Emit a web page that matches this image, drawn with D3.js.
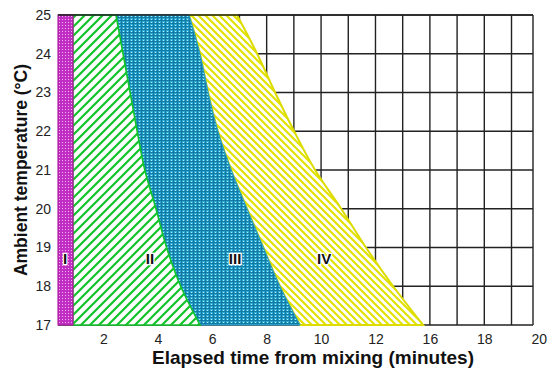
<!DOCTYPE html>
<html>
<head>
<meta charset="utf-8">
<script src="https://cdn.jsdelivr.net/npm/d3@7"></script>
<style>
  body { margin: 0; background: #fff; }
  text { font-family: "Liberation Sans", Arial, sans-serif; }
</style>
</head>
<body>
<div id="chart"></div>
<script>
// Stage boundaries (elapsed minutes), one value per temperature
const temps = [25, 24, 23, 22, 21, 20, 19, 18, 17];
const stageIEnd = 0.88;
const stageIIEnd = [2.46, 2.72, 2.98, 3.24, 3.52, 3.93, 4.32, 4.84, 5.55];
const stageIIIEnd = [5.15, 5.55, 5.85, 6.21, 6.70, 7.28, 7.88, 8.49, 9.23];
const stageIVEnd = [6.91, 7.65, 8.31, 9.01, 9.78, 10.74, 11.65, 12.65, 13.75];

// Tick positions and the labels printed under them
const xTickValues = [2, 4, 6, 8, 10, 12, 14, 16, 18];
const xTickLabels = ['2', '4', '6', '8', '10', '12', '16', '18', '20'];
const yTickValues = [17, 18, 19, 20, 21, 22, 23, 24, 25];

// Stage names and where they sit
const stageNames = ['I', 'II', 'III', 'IV'];
const stageLabelX = [0.59, 3.71, 6.84, 10.11];
const stageLabelY = 18.68;

const width = 550, height = 377;
const margin = { top: 15, right: 17, bottom: 52, left: 58 };
const innerW = width - margin.left - margin.right;
const innerH = height - margin.top - margin.bottom;

const svg = d3.select('#chart')
    .append('svg')
    .attr('width', width)
    .attr('height', height);

const defs = svg.append('defs');

// magenta dotted fill
const pI = defs.append('pattern').attr('id', 'dotsI')
    .attr('patternUnits', 'userSpaceOnUse').attr('width', 3).attr('height', 3);
pI.append('rect').attr('width', 3).attr('height', 3).attr('fill', '#c12ec4');
pI.append('rect').attr('x', 1).attr('y', 1).attr('width', 1).attr('height', 1).attr('fill', '#f3b6f3');

// green forward hatch
const pII = defs.append('pattern').attr('id', 'hatchII')
    .attr('patternUnits', 'userSpaceOnUse').attr('width', 9).attr('height', 9);
pII.append('rect').attr('width', 9).attr('height', 9).attr('fill', '#fff');
pII.append('path').attr('d', 'M-2,2 L2,-2 M0,9 L9,0 M7,11 L11,7')
    .attr('stroke', '#12c42a').attr('stroke-width', 2.2);

// blue woven fill
const pIII = defs.append('pattern').attr('id', 'weaveIII')
    .attr('patternUnits', 'userSpaceOnUse').attr('width', 4).attr('height', 3);
pIII.append('rect').attr('width', 4).attr('height', 3).attr('fill', '#157aa3');
pIII.append('rect').attr('x', 0).attr('y', 0).attr('width', 3).attr('height', 2).attr('fill', '#2ea9d4');
pIII.append('rect').attr('x', 1).attr('y', 1).attr('width', 1).attr('height', 1).attr('fill', '#a6f4fc');

// yellow back hatch
const pIV = defs.append('pattern').attr('id', 'hatchIV')
    .attr('patternUnits', 'userSpaceOnUse').attr('width', 7).attr('height', 7);
pIV.append('rect').attr('width', 7).attr('height', 7).attr('fill', '#fff');
pIV.append('path').attr('d', 'M-2,5 L2,9 M0,0 L7,7 M5,-2 L9,2')
    .attr('stroke', '#e2e200').attr('stroke-width', 2.1);

const g = svg.append('g')
    .attr('transform', `translate(${margin.left}, ${margin.top})`);

const x = d3.scaleLinear().domain([0.33, 17.79]).range([0, innerW]);
const y = d3.scaleLinear().domain([17, 25]).range([innerH, 0]);

// grid
g.append('rect').attr('width', innerW).attr('height', innerH).attr('fill', '#fff');
g.append('g').selectAll('line')
    .data(d3.range(1, 18))
    .join('line')
    .attr('x1', d => x(d)).attr('x2', d => x(d))
    .attr('y1', 0).attr('y2', innerH)
    .attr('stroke', '#222').attr('stroke-width', 1.4);
g.append('g').selectAll('line')
    .data(yTickValues)
    .join('line')
    .attr('x1', 0).attr('x2', innerW)
    .attr('y1', d => y(d)).attr('y2', d => y(d))
    .attr('stroke', '#222').attr('stroke-width', 1.4);
g.append('line')
    .attr('x1', innerW).attr('x2', innerW).attr('y1', 0).attr('y2', innerH)
    .attr('stroke', '#222').attr('stroke-width', 1.4);

// stage regions
const rows = temps.map((t, i) => ({
    t: t, s0: x.domain()[0], s1: stageIEnd,
    s2: stageIIEnd[i], s3: stageIIIEnd[i], s4: stageIVEnd[i]
}));

function band(a, b) {
    return d3.area()
        .y(d => y(d.t))
        .x0(d => x(d[a]))
        .x1(d => x(d[b]))
        .curve(d3.curveMonotoneY)(rows);
}

g.append('path').attr('d', band('s3', 's4'))
    .attr('fill', 'url(#hatchIV)').attr('stroke', '#dcdc00').attr('stroke-width', 2);
g.append('path').attr('d', band('s2', 's3'))
    .attr('fill', 'url(#weaveIII)').attr('stroke', '#2aa0c8').attr('stroke-width', 1);
g.append('path').attr('d', band('s1', 's2'))
    .attr('fill', 'url(#hatchII)').attr('stroke', '#12c42a').attr('stroke-width', 1.6);
g.append('path').attr('d', band('s0', 's1'))
    .attr('fill', 'url(#dotsI)').attr('stroke', '#b0209f').attr('stroke-width', 1.2);

// top border
g.append('line')
    .attr('x1', 0).attr('x2', innerW).attr('y1', 0).attr('y2', 0)
    .attr('stroke', '#222').attr('stroke-width', 1.6);

// stage labels
g.append('g').selectAll('text')
    .data(stageNames)
    .join('text')
    .attr('x', (d, i) => x(stageLabelX[i]))
    .attr('y', y(stageLabelY))
    .attr('text-anchor', 'middle')
    .attr('dominant-baseline', 'middle')
    .attr('font-size', 15)
    .attr('font-weight', 'bold')
    .attr('fill', '#111')
    .attr('stroke', '#fff').attr('stroke-width', 2.5)
    .attr('paint-order', 'stroke')
    .text(d => d);

// axes
const xAxis = d3.axisBottom(x)
    .tickValues(xTickValues)
    .tickFormat((d, i) => xTickLabels[i])
    .tickSize(0).tickPadding(9);
g.append('g')
    .attr('transform', `translate(0, ${innerH})`)
    .call(xAxis)
    .call(a => a.select('.domain').remove())
    .selectAll('text')
    .attr('font-size', 14).attr('fill', '#222')
    .style('font-family', '"Liberation Sans", Arial, sans-serif');

const yAxis = d3.axisLeft(y)
    .tickValues(yTickValues)
    .tickFormat(d3.format('d'))
    .tickSize(0).tickPadding(7);
g.append('g')
    .call(yAxis)
    .call(a => a.select('.domain').remove())
    .selectAll('text')
    .attr('font-size', 14).attr('fill', '#222')
    .style('font-family', '"Liberation Sans", Arial, sans-serif');

// axis titles
svg.append('text')
    .attr('x', 313)
    .attr('y', 364)
    .attr('text-anchor', 'middle')
    .attr('font-size', 19)
    .attr('font-weight', 'bold')
    .attr('fill', '#111')
    .text('Elapsed time from mixing (minutes)');

svg.append('text')
    .attr('transform', 'translate(27, 170) rotate(-90)')
    .attr('text-anchor', 'middle')
    .attr('font-size', 17.5)
    .attr('font-weight', 'bold')
    .attr('fill', '#111')
    .text('Ambient temperature (°C)');
</script>
</body>
</html>
